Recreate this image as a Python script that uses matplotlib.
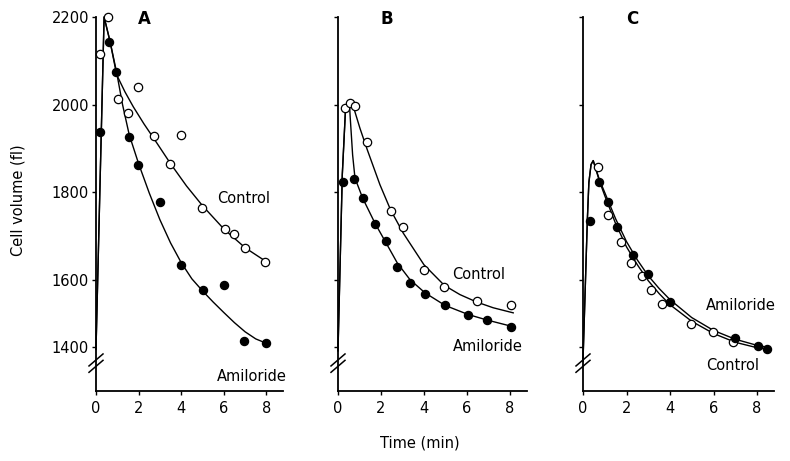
import numpy as np
import matplotlib
matplotlib.use('Agg')
import matplotlib.pyplot as plt

plt.rcParams['font.family'] = 'DejaVu Sans'

# ---- data ----
panels = ['A', 'B', 'C']

# measured points (open = control, filled = amiloride)
tA_ctrl = [0.19, 0.58, 1.01, 1.48, 1.98, 2.73, 3.49, 4.0, 4.98, 6.06, 6.48, 6.98, 7.94]
vA_ctrl = [2115, 2199, 2012, 1980, 2040, 1929, 1864, 1930, 1764, 1716, 1705, 1672, 1641]
tA_amil = [0.2, 0.6, 0.96, 1.55, 1.98, 2.99, 3.99, 5.04, 6.0, 6.97, 8.0]
vA_amil = [1938, 2144, 2075, 1926, 1861, 1778, 1634, 1569, 1583, 1419, 1412]

tB_ctrl = [0.33, 0.56, 0.79, 1.36, 2.45, 3.01, 4.0, 4.94, 6.45, 8.03]
vB_ctrl = [1993, 2003, 1996, 1914, 1757, 1720, 1621, 1579, 1538, 1526]
tB_amil = [0.22, 0.74, 1.15, 1.72, 2.23, 2.76, 3.35, 4.05, 4.98, 6.06, 6.92, 8.03]
vB_amil = [1823, 1830, 1786, 1727, 1689, 1630, 1590, 1558, 1524, 1497, 1482, 1461]

tC_ctrl = [0.7, 1.16, 1.77, 2.2, 2.69, 3.12, 3.64, 4.96, 5.96, 6.91]
vC_ctrl = [1857, 1748, 1687, 1638, 1609, 1571, 1529, 1468, 1444, 1416]
tC_amil = [0.32, 0.75, 1.16, 1.55, 2.31, 2.97, 3.99, 6.99, 8.03, 8.44]
vC_amil = [1735, 1824, 1778, 1720, 1657, 1613, 1533, 1429, 1404, 1396]

# fitted curves as drawn
fA_ctrl_t = [0, 0.38, 0.66, 0.97, 1.36, 1.75, 2.25, 2.75, 3.5, 4.25, 5.0, 6.0, 7.0, 8.0]
fA_ctrl_v = [1394, 2200, 2144, 2068, 2029, 1995, 1956, 1920, 1865, 1814, 1769, 1716, 1673, 1641]
fA_amil_t = [0, 0.38, 0.66, 0.97, 1.25, 1.56, 2.0, 2.5, 3.0, 3.5, 4.0, 4.5, 5.0, 5.5, 6.0, 6.5, 7.0, 7.5, 8.0]
fA_amil_v = [1394, 2200, 2144, 2073, 1999, 1931, 1865, 1798, 1737, 1684, 1639, 1602, 1567, 1534, 1503, 1473, 1446, 1425, 1412]

fB_ctrl_t = [0, 0.2, 0.35, 0.53, 0.71, 1.02, 1.36, 1.95, 2.45, 3.04, 4.0, 4.95, 5.67, 6.45, 7.22, 8.15]
fB_ctrl_v = [1390, 1840, 1990, 2005, 1996, 1946, 1897, 1817, 1759, 1706, 1634, 1583, 1556, 1534, 1517, 1502]
fB_amil_t = [0, 0.2, 0.35, 0.53, 0.56, 0.68, 0.79, 1.15, 1.72, 2.27, 2.76, 3.35, 4.05, 4.98, 6.06, 6.92, 8.15]
fB_amil_v = [1390, 1840, 1990, 2005, 1977, 1885, 1832, 1786, 1729, 1681, 1638, 1600, 1561, 1524, 1497, 1481, 1461]

fC_ctrl_t = [0, 0.2, 0.27, 0.37, 0.47, 0.75, 1.0, 1.5, 2.0, 2.5, 3.0, 3.5, 4.0, 5.0, 6.0, 7.0, 8.0, 8.5]
fC_ctrl_v = [1360, 1737, 1822, 1863, 1872, 1826, 1792, 1728, 1675, 1634, 1597, 1559, 1526, 1477, 1441, 1415, 1399, 1394]
fC_amil_t = [0, 0.2, 0.27, 0.37, 0.47, 0.75, 1.0, 1.5, 2.0, 2.5, 3.0, 3.5, 4.0, 5.0, 6.0, 7.0, 8.0, 8.5]
fC_amil_v = [1360, 1737, 1822, 1863, 1872, 1829, 1799, 1739, 1687, 1645, 1609, 1574, 1541, 1488, 1450, 1424, 1406, 1400]

yticks = [1400, 1600, 1800, 2000, 2200]
xticks = [0, 2, 4, 6, 8]

# label positions (x in min, y in fl)
ctrl_lbl = [(5.68, 1785), (5.3, 1613), (5.66, 1347)]
amil_lbl = [(5.68, 1315), (5.35, 1403), (5.66, 1524)]

points = [(tA_ctrl, vA_ctrl, tA_amil, vA_amil),
          (tB_ctrl, vB_ctrl, tB_amil, vB_amil),
          (tC_ctrl, vC_ctrl, tC_amil, vC_amil)]
fits = [(fA_ctrl_t, fA_ctrl_v, fA_amil_t, fA_amil_v),
        (fB_ctrl_t, fB_ctrl_v, fB_amil_t, fB_amil_v),
        (fC_ctrl_t, fC_ctrl_v, fC_amil_t, fC_amil_v)]

# axis below 1600 is drawn compressed in the original
K = 68.0 / 88.0
def fwd(y):
    y = np.asarray(y, dtype=float)
    return np.where(y < 1600, 1600 - (1600 - y) * K, y)
def inv(y):
    y = np.asarray(y, dtype=float)
    return np.where(y < 1600, 1600 - (1600 - y) / K, y)

fig = plt.figure(figsize=(7.9, 4.61), dpi=100)
lefts = [96, 338, 583]
pxmin = [21.3, 21.5, 21.75]
top, bottom = 17, 391

for i in range(3):
    w = 8.8 * pxmin[i]
    ax = fig.add_axes([lefts[i] / 790, 1 - bottom / 461, w / 790, (bottom - top) / 461])
    ax.set_yscale('function', functions=(fwd, inv))
    ax.set_xlim(0, 8.8)
    ax.set_ylim(1271, 2200)

    tc, vc, ta, va = points[i]
    ftc, fvc, fta, fva = fits[i]
    ax.plot(ftc, fvc, color='black', lw=1.0, clip_on=False)
    ax.plot(fta, fva, color='black', lw=1.0, clip_on=False)
    ax.plot(tc, vc, 'o', ms=6.0, mfc='white', mec='black', mew=0.9, clip_on=False, zorder=3)
    ax.plot(ta, va, 'o', ms=5.8, mfc='black', mec='black', clip_on=False, zorder=3)

    for s in ['top', 'right']:
        ax.spines[s].set_visible(False)
    ax.spines['left'].set_linewidth(1.3)
    ax.spines['bottom'].set_linewidth(1.3)
    ax.set_xticks(xticks)
    ax.set_yticks(yticks)
    ax.tick_params(direction='out', length=3, width=1, labelsize=10.5)
    ax.tick_params(axis='x', pad=4)
    ax.tick_params(axis='y', pad=2)
    if i > 0:
        ax.set_yticklabels([])
    ax.minorticks_off()

    ax.text(2.25, 2196, panels[i], fontsize=12, fontweight='bold', ha='center', va='center')
    ax.text(ctrl_lbl[i][0], ctrl_lbl[i][1], 'Control', fontsize=10.5, ha='left', va='center')
    ax.text(amil_lbl[i][0], amil_lbl[i][1], 'Amiloride', fontsize=10.5, ha='left', va='center')

    # axis break marks "//"
    dx = 7.0 / w
    dy = 6.0 / (bottom - top)
    for yc in [0.083, 0.066]:
        ax.plot([-dx, dx], [yc - dy, yc + dy], transform=ax.transAxes,
                color='black', lw=1.1, clip_on=False)

fig.text(0.023, 1 - 200 / 461, 'Cell volume (fl)', rotation=90, fontsize=10.5,
         ha='center', va='center')
fig.text(420 / 790, 1 - 443 / 461, 'Time (min)', fontsize=10.5, ha='center', va='center')

plt.savefig('out.png', dpi=100)
